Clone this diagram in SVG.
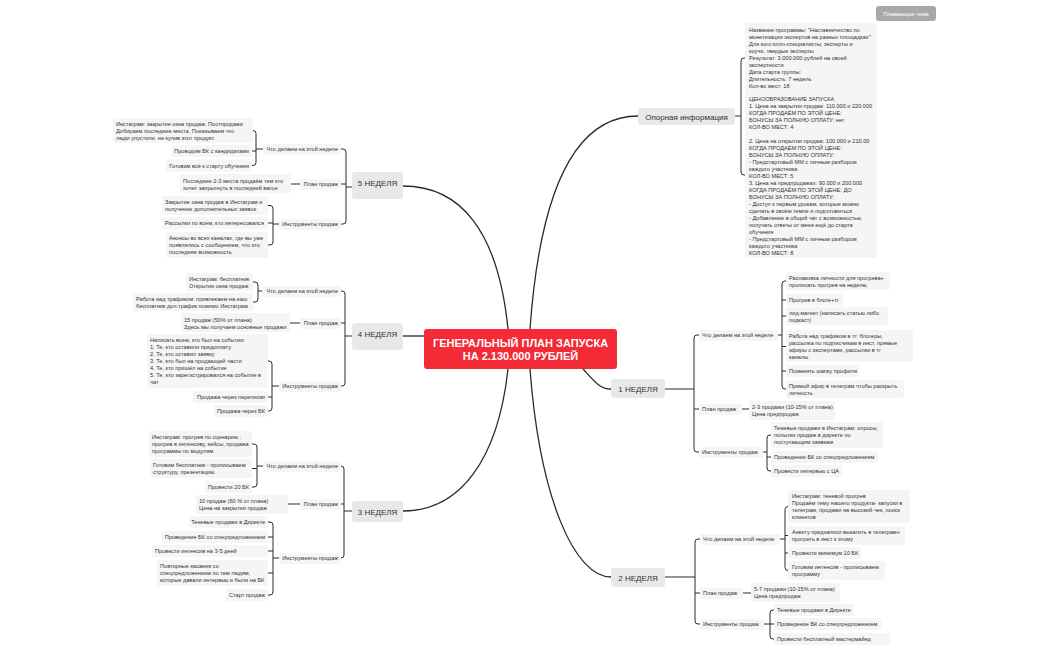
<svg xmlns="http://www.w3.org/2000/svg" width="1050" height="650" viewBox="0 0 1050 650">
<style>
.bg{fill:#ffffff}
.c{fill:none;stroke:#2b2b2b;stroke-width:1.3}
.b{fill:none;stroke:#2b2b2b;stroke-width:1}
.sb{fill:#f5f5f5}
.mb{fill:#e8e8e8}
text{font-family:"Liberation Sans",Arial,sans-serif;fill:#333}
.s{font-size:5.6px}
.m{font-size:8px}
.e{text-anchor:end}
.mid{text-anchor:middle}
</style>
<rect class="bg" x="0" y="0" width="1050" height="650"/>

<g id="connectors">
  <path class="c" d="M530 329 C540 190 575 116 638 116"/>
  <path class="c" d="M508 329 C498 230 460 186 403 186"/>
  <path class="c" d="M424 336 H403"/>
  <path class="c" d="M508 369 C498 460 460 511 403 511"/>
  <path class="c" d="M583 369 C595 382 600 389 611 389"/>
  <path class="c" d="M530 369 C540 500 575 577 611 577"/>
  <!-- Опорная -->
  <path class="b" d="M735 116 H741 M745 58 H744 Q741 58 741 61 V172 Q741 175 744 175 H745"/>
  <!-- 1 неделя -->
  <path class="b" d="M665 389 H694 M699 335 H697 Q694 335 694 338 V449 Q694 452 697 452 H699 M694 409 H699"/>
  <path class="b" d="M778 335 H782 M786 281 H785 Q782 281 782 284 V386 Q782 389 785 389 H786 M782 300 H786 M782 316 H786 M782 346.5 H786 M782 371 H786"/>
  <path class="b" d="M742 409 H749"/>
  <path class="b" d="M763 452 H767 M771 435 H770 Q767 435 767 438 V468 Q767 471 770 471 H771 M767 457 H771"/>
  <!-- 2 неделя -->
  <path class="b" d="M665 577 H695 M700 539 H698 Q695 539 695 542 V621 Q695 624 698 624 H700 M695 593 H700"/>
  <path class="b" d="M780 539 H785 M788 506.5 H788 Q785 506.5 785 509.5 V567.5 Q785 570.5 788 570.5 H788 M785 535.5 H788 M785 553 H788"/>
  <path class="b" d="M743 593 H751"/>
  <path class="b" d="M764 624 H770 M774 610 H773 Q770 610 770 613 V636 Q770 639 773 639 H774 M770 624 H774"/>
  <!-- 5 неделя -->
  <path class="b" d="M352 187 H346 M341 149 H343 Q346 149 346 152 V221 Q346 224 343 224 H341 M346 184 H341"/>
  <path class="b" d="M263 149 H256 M252 130.5 H253 Q256 130.5 256 133.5 V162.5 Q256 165.5 253 165.5 H252 M256 151 H252"/>
  <path class="b" d="M300 184 H291"/>
  <path class="b" d="M279 224 H273 M268 205.5 H270 Q273 205.5 273 208.5 V242 Q273 245 270 245 H268 M273 223 H268"/>
  <!-- 4 неделя -->
  <path class="b" d="M352 336 H345 M341 291 H342 Q345 291 345 294 V383 Q345 386 342 386 H341 M345 323 H341"/>
  <path class="b" d="M262 291 H258 M253 282 H255 Q258 282 258 285 V299 Q258 302 255 302 H253"/>
  <path class="b" d="M300 323 H290"/>
  <path class="b" d="M279 386 H272 M268 361 H269 Q272 361 272 364 V408 Q272 411 269 411 H268 M272 397 H268"/>
  <!-- 3 неделя -->
  <path class="b" d="M352 511 H344 M341 466 H341 Q344 466 344 469 V555 Q344 558 341 558 H341 M344 504 H341"/>
  <path class="b" d="M263 466 H257 M252 444 H254 Q257 444 257 447 V484 Q257 487 254 487 H252 M257 468.5 H252"/>
  <path class="b" d="M300 504 H288"/>
  <path class="b" d="M279 558 H273 M268 522 H270 Q273 522 273 525 V592 Q273 595 270 595 H268 M273 537 H268 M273 551 H268 M273 573 H268"/>
</g>

<g id="center">
  <rect x="424" y="329" width="193" height="40" rx="3" fill="#f42a36"/>
  <text x="520.5" y="347" class="mid" font-size="11" font-weight="bold" style="fill:#fff">ГЕНЕРАЛЬНЫЙ ПЛАН ЗАПУСКА</text>
  <text x="520.5" y="360" class="mid" font-size="11" font-weight="bold" style="fill:#fff">НА 2.130.000 РУБЛЕЙ</text>
</g>

<g id="floating">
  <rect x="876" y="6" width="60" height="15" rx="3" fill="#a8a8a8"/>
  <text x="906" y="15.5" class="mid" font-size="5.6" style="fill:#fff">Плавающая тема</text>
</g>

<g id="opornaya">
  <rect class="mb" x="638" y="108" width="97" height="17" rx="3"/>
  <text class="m mid" x="686.5" y="119.5">Опорная информация</text>
</g>
<g id="info1">
  <rect class="sb" x="745" y="23" width="132" height="70" rx="3"/>
  <text class="s" x="749" y="32">Название программы: "Наставничество по<tspan x="749" dy="7">монетизации экспертов на разных площадках"</tspan><tspan x="749" dy="7">Для кого:smm-специалисты, эксперты и</tspan><tspan x="749" dy="7">коучи, твердые эксперты</tspan><tspan x="749" dy="7">Результат: 3.000.000  рублей на своей</tspan><tspan x="749" dy="7">экспертности</tspan><tspan x="749" dy="7">Дата старта группы:</tspan><tspan x="749" dy="7">Длительность: 7 недель</tspan><tspan x="749" dy="7">Кол-во мест: 18</tspan></text>
</g>
<g id="info2">
  <rect class="sb" x="745" y="93" width="132" height="165" rx="3"/>
  <text class="s" x="749" y="101">ЦЕНООБРАЗОВАНИЕ ЗАПУСКА<tspan x="749" dy="7">1. Цена на закрытии продаж: 110.000 и 220.000</tspan><tspan x="749" dy="7">КОГДА ПРОДАЁМ ПО ЭТОЙ ЦЕНЕ:</tspan><tspan x="749" dy="7">БОНУСЫ ЗА ПОЛНУЮ ОПЛАТУ: нет</tspan><tspan x="749" dy="7">КОЛ-ВО МЕСТ: 4</tspan><tspan x="749" dy="14">2. Цена на открытии продаж: 100.000 и 210.00</tspan><tspan x="749" dy="7">КОГДА ПРОДАЁМ ПО ЭТОЙ ЦЕНЕ:</tspan><tspan x="749" dy="7">БОНУСЫ ЗА ПОЛНУЮ ОПЛАТУ:</tspan><tspan x="749" dy="7">- Предстартовый ММ с личным разбором</tspan><tspan x="749" dy="7">каждого участника</tspan><tspan x="749" dy="7">КОЛ-ВО МЕСТ: 5</tspan><tspan x="749" dy="7">3. Цена на предпродажах: 90.000 и 200.000</tspan><tspan x="749" dy="7">КОГДА ПРОДАЁМ ПО ЭТОЙ ЦЕНЕ: ДО</tspan><tspan x="749" dy="7">БОНУСЫ ЗА ПОЛНУЮ ОПЛАТУ:</tspan><tspan x="749" dy="7">- Доступ к первым урокам, которые можно</tspan><tspan x="749" dy="7">сделать в своём темпе и подготовиться</tspan><tspan x="749" dy="7">- Добавление в общий чат с возможностью</tspan><tspan x="749" dy="7">получать ответы от меня ещё до старта</tspan><tspan x="749" dy="7">обучения</tspan><tspan x="749" dy="7">- Предстартовый ММ с личным разбором</tspan><tspan x="749" dy="7">каждого участника</tspan><tspan x="749" dy="7">КОЛ-ВО МЕСТ: 8</tspan></text>
</g>

<!-- 1 НЕДЕЛЯ -->
<g id="w1">
  <rect class="mb" x="611" y="379" width="54" height="19" rx="3"/>
  <text class="m mid" x="638" y="392">1 НЕДЕЛЯ</text>
</g>
<g id="w1-do"><rect class="sb" x="699" y="330" width="79" height="11" rx="2"/><text class="s" x="702" y="337">Что делаем на этой неделе</text></g>
<g id="w1-plan"><rect class="sb" x="699" y="404" width="43" height="11" rx="2"/><text class="s" x="702" y="411">План продаж</text></g>
<g id="w1-tools"><rect class="sb" x="699" y="447" width="64" height="11" rx="2"/><text class="s" x="702" y="454">Инструменты продаж</text></g>
<g id="w1-do1"><rect class="sb" x="786" y="272" width="104" height="18" rx="2"/><text class="s" x="789" y="279.5">Распаковка личности для прогрева+<tspan x="789" dy="7">прописать прогрев на неделю</tspan></text></g>
<g id="w1-do2"><rect class="sb" x="786" y="294" width="57" height="12" rx="2"/><text class="s" x="789" y="302">Прогрев в блоге+тг</text></g>
<g id="w1-do3"><rect class="sb" x="786" y="307" width="102" height="18" rx="2"/><text class="s" x="789" y="314.5">лид-магнит (написать статью  либо<tspan x="789" dy="7">подкаст)</tspan></text></g>
<g id="w1-do4"><rect class="sb" x="786" y="330" width="127" height="32" rx="2"/><text class="s" x="789" y="338">Работа над трафиком в тг: блогеры,<tspan x="789" dy="7">рассылка по подписчикам в инст, прямые</tspan><tspan x="789" dy="7">эфиры с экспертами, рассылки в тг</tspan><tspan x="789" dy="7">каналы</tspan></text></g>
<g id="w1-do5"><rect class="sb" x="786" y="365" width="73" height="12" rx="2"/><text class="s" x="789" y="373">Поменять шапку профиля</text></g>
<g id="w1-do6"><rect class="sb" x="786" y="380" width="118" height="18" rx="2"/><text class="s" x="789" y="387.5">Прямой эфир в телеграм чтобы раскрыть<tspan x="789" dy="7">личность</tspan></text></g>
<g id="w1-plan1"><rect class="sb" x="749" y="401" width="86" height="19" rx="2"/><text class="s" x="752" y="408.5">2-3 продажи (10-15% от плана)<tspan x="752" dy="7">Цена предпродаж</tspan></text></g>
<g id="w1-t1"><rect class="sb" x="771" y="422" width="112" height="26" rx="2"/><text class="s" x="774" y="430">Теневые продажи в Инстаграм: опросы,<tspan x="774" dy="7">попытки продаж в директе по</tspan><tspan x="774" dy="7">поступающим заявкам</tspan></text></g>
<g id="w1-t2"><rect class="sb" x="771" y="451" width="107" height="12" rx="2"/><text class="s" x="774" y="459">Проведение БК со спецпредложением</text></g>
<g id="w1-t3"><rect class="sb" x="771" y="465" width="71" height="12" rx="2"/><text class="s" x="774" y="473">Провести интервью с ЦА</text></g>

<!-- 2 НЕДЕЛЯ -->
<g id="w2">
  <rect class="mb" x="611" y="568" width="54" height="19" rx="3"/>
  <text class="m mid" x="638" y="580.5">2 НЕДЕЛЯ</text>
</g>
<g id="w2-do"><rect class="sb" x="700" y="534" width="80" height="11" rx="2"/><text class="s" x="703" y="541">Что делаем на этой неделе</text></g>
<g id="w2-plan"><rect class="sb" x="700" y="588" width="43" height="11" rx="2"/><text class="s" x="703" y="595">План продаж</text></g>
<g id="w2-tools"><rect class="sb" x="700" y="619" width="64" height="11" rx="2"/><text class="s" x="703" y="626">Инструменты продаж</text></g>
<g id="w2-do1"><rect class="sb" x="788" y="490" width="122" height="33" rx="2"/><text class="s" x="792" y="498">Инстаграм: теневой прогрев<tspan x="792" dy="7">Продаём тему нашего продукта- запуски в</tspan><tspan x="792" dy="7">телеграм, продажи на высокий чек, поиск</tspan><tspan x="792" dy="7">клиентов</tspan></text></g>
<g id="w2-do2"><rect class="sb" x="788" y="526" width="117" height="19" rx="2"/><text class="s" x="792" y="534">Анкету предзаписи выкатить  в телеграм+<tspan x="792" dy="7">прогреть в инст к этому</tspan></text></g>
<g id="w2-do3"><rect class="sb" x="788" y="547" width="73" height="12" rx="2"/><text class="s" x="792" y="555">Провести минимум 10 БК</text></g>
<g id="w2-do4"><rect class="sb" x="788" y="561" width="97" height="19" rx="2"/><text class="s" x="792" y="569">Готовим интенсив - прописываем<tspan x="792" dy="7">программу</tspan></text></g>
<g id="w2-plan1"><rect class="sb" x="751" y="583" width="89" height="19" rx="2"/><text class="s" x="754" y="591">5-7  продажи (10-15% от плана)<tspan x="754" dy="7">Цена предпродаж</tspan></text></g>
<g id="w2-t1"><rect class="sb" x="774" y="604" width="80" height="12" rx="2"/><text class="s" x="777" y="612">Теневые продажи в Директе</text></g>
<g id="w2-t2"><rect class="sb" x="774" y="618" width="108" height="12" rx="2"/><text class="s" x="777" y="626">Проведение БК со спецпредложением</text></g>
<g id="w2-t3"><rect class="sb" x="774" y="633" width="116" height="12" rx="2"/><text class="s" x="777" y="641">Провести бесплатный мастермайнд</text></g>

<!-- 5 НЕДЕЛЯ -->
<g id="w5">
  <rect class="mb" x="352" y="172" width="51" height="27" rx="3"/>
  <text class="m mid" x="377.5" y="186">5 НЕДЕЛЯ</text>
</g>
<g id="w5-do"><rect class="sb" x="263" y="144" width="78" height="11" rx="2"/><text class="s e" x="338" y="151">Что делаем на этой неделе</text></g>
<g id="w5-plan"><rect class="sb" x="300" y="179" width="41" height="11" rx="2"/><text class="s e" x="338" y="186">План продаж</text></g>
<g id="w5-tools"><rect class="sb" x="279" y="219" width="62" height="11" rx="2"/><text class="s e" x="338" y="226">Инструменты продаж</text></g>
<g id="w5-do1"><rect class="sb" x="113" y="118" width="140" height="25" rx="2"/><text class="s" x="116" y="125.5">Инстаграм: закрытие окна продаж. Постпродажи<tspan x="116" dy="7">Добираем последние места. Показываем что</tspan><tspan x="116" dy="7">люди упустили, не купив этот продукт.</tspan></text></g>
<g id="w5-do2"><rect class="sb" x="172" y="145" width="80" height="12" rx="2"/><text class="s e" x="249" y="153">Проводим БК с кандидатами</text></g>
<g id="w5-do3"><rect class="sb" x="166" y="159.5" width="86" height="12" rx="2"/><text class="s e" x="249" y="167.5">Готовим всё к старту обучения</text></g>
<g id="w5-plan1"><rect class="sb" x="180" y="174" width="111" height="19" rx="2"/><text class="s" x="183" y="182.5">Последние 2-3 места продаём тем кто<tspan x="183" dy="7">хочет запрыгнуть в последний вагон</tspan></text></g>
<g id="w5-t1"><rect class="sb" x="162" y="196" width="106" height="19" rx="2"/><text class="s" x="165" y="204">Закрытие окна продаж в Инстаграм и<tspan x="165" dy="7">получение дополнительных заявок</tspan></text></g>
<g id="w5-t2"><rect class="sb" x="162" y="217" width="106" height="12" rx="2"/><text class="s" x="165" y="225">Рассылки по всем, кто интересовался</text></g>
<g id="w5-t3"><rect class="sb" x="166" y="232" width="102" height="26" rx="2"/><text class="s" x="169" y="240">Анонсы во всех каналах, где вы уже<tspan x="169" dy="7">появлялись с сообщением, что это</tspan><tspan x="169" dy="7">последняя возможность</tspan></text></g>

<!-- 4 НЕДЕЛЯ -->
<g id="w4">
  <rect class="mb" x="352" y="323" width="51" height="27" rx="3"/>
  <text class="m mid" x="377.5" y="337">4 НЕДЕЛЯ</text>
</g>
<g id="w4-do"><rect class="sb" x="262" y="286" width="79" height="11" rx="2"/><text class="s e" x="338" y="293">Что делаем на этой неделе</text></g>
<g id="w4-plan"><rect class="sb" x="300" y="318" width="41" height="11" rx="2"/><text class="s e" x="338" y="325">План продаж</text></g>
<g id="w4-tools"><rect class="sb" x="279" y="381" width="62" height="11" rx="2"/><text class="s e" x="338" y="388">Инструменты продаж</text></g>
<g id="w4-do1"><rect class="sb" x="186" y="273" width="67" height="18" rx="2"/><text class="s" x="189" y="280.5">Инстаграм: бесплатник<tspan x="189" dy="7">Открытие окна продаж</tspan></text></g>
<g id="w4-do2"><rect class="sb" x="133" y="293" width="120" height="18" rx="2"/><text class="s" x="136" y="300.5">Работа над трафиком: привлекаем на наш<tspan x="136" dy="7">бесплатник доп.трафик помимо Инстаграм</tspan></text></g>
<g id="w4-plan1"><rect class="sb" x="181" y="313" width="109" height="19" rx="2"/><text class="s" x="184" y="321.5">15 продаж (50% от плана)<tspan x="184" dy="7">Здесь мы получаем основные продажи</tspan></text></g>
<g id="w4-t1"><rect class="sb" x="147" y="334" width="121" height="54" rx="2"/><text class="s" x="150" y="342">Написать всем, кто был на событии:<tspan x="150" dy="7">1. Те, кто оставили предоплату</tspan><tspan x="150" dy="7">2. Те, кто оставил заявку</tspan><tspan x="150" dy="7">3. Те, кто был на продающей части</tspan><tspan x="150" dy="7">4. Те, кто пришёл на событие</tspan><tspan x="150" dy="7">5. Те, кто зарегистрировался на событие в</tspan><tspan x="150" dy="7">чат</tspan></text></g>
<g id="w4-t2"><rect class="sb" x="193" y="391" width="75" height="12" rx="2"/><text class="s e" x="265" y="399">Продажа через переписки</text></g>
<g id="w4-t3"><rect class="sb" x="214" y="405" width="54" height="12" rx="2"/><text class="s e" x="265" y="413">Продажа через БК</text></g>

<!-- 3 НЕДЕЛЯ -->
<g id="w3">
  <rect class="mb" x="352" y="501" width="51" height="21" rx="3"/>
  <text class="m mid" x="377.5" y="514.5">3 НЕДЕЛЯ</text>
</g>
<g id="w3-do"><rect class="sb" x="263" y="461" width="78" height="11" rx="2"/><text class="s e" x="338" y="468">Что делаем на этой неделе</text></g>
<g id="w3-plan"><rect class="sb" x="300" y="499" width="41" height="11" rx="2"/><text class="s e" x="338" y="506">План продаж</text></g>
<g id="w3-tools"><rect class="sb" x="279" y="553" width="62" height="11" rx="2"/><text class="s e" x="338" y="560">Инструменты продаж</text></g>
<g id="w3-do1"><rect class="sb" x="149" y="431" width="103" height="26" rx="2"/><text class="s" x="152" y="439">Инстаграм: прогрев по сценарию :<tspan x="152" dy="7">прогрев в интенсиву, кейсы, продажа</tspan><tspan x="152" dy="7">программы по модулям</tspan></text></g>
<g id="w3-do2"><rect class="sb" x="150" y="459" width="102" height="19" rx="2"/><text class="s" x="153" y="467">Готовим бесплатник - прописываем<tspan x="153" dy="7">структуру, презентацию</tspan></text></g>
<g id="w3-do3"><rect class="sb" x="205" y="481" width="47" height="12" rx="2"/><text class="s e" x="249" y="489">Провести 20 БК</text></g>
<g id="w3-plan1"><rect class="sb" x="196" y="495" width="92" height="19" rx="2"/><text class="s" x="199" y="503">10  продаж (60 % от плана)<tspan x="199" dy="7">Цена на закрытии продаж</tspan></text></g>
<g id="w3-t1"><rect class="sb" x="189" y="516" width="79" height="12" rx="2"/><text class="s e" x="265" y="524">Теневые продажи в Директе</text></g>
<g id="w3-t2"><rect class="sb" x="161" y="531" width="107" height="12" rx="2"/><text class="s e" x="265" y="539">Проведение БК со спецпредложением</text></g>
<g id="w3-t3"><rect class="sb" x="152" y="545" width="116" height="12" rx="2"/><text class="s" x="155" y="553">Провести  интенсив  на  3-5 дней</text></g>
<g id="w3-t4"><rect class="sb" x="157" y="560" width="111" height="26" rx="2"/><text class="s" x="160" y="568">Повторные касания  со<tspan x="160" dy="7">спецпредложением по тем людям,</tspan><tspan x="160" dy="7">которые давали интервью и были на БК</tspan></text></g>
<g id="w3-t5"><rect class="sb" x="226" y="589" width="42" height="12" rx="2"/><text class="s e" x="265" y="597">Старт продаж</text></g>
</svg>
